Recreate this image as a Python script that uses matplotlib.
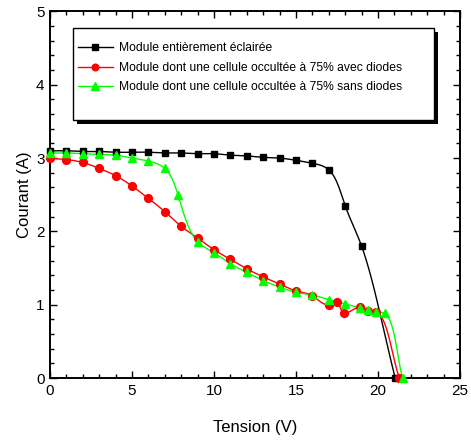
import numpy as np
import matplotlib
matplotlib.use("Agg")
import matplotlib.pyplot as plt
from matplotlib.ticker import MultipleLocator
from matplotlib.lines import Line2D
from matplotlib.patches import Rectangle
from matplotlib.transforms import ScaledTranslation

plt.rcParams['font.family'] = ['Liberation Sans', 'DejaVu Sans']

# I-V characteristics of the PV module
volts_full = [0, 1, 2, 3, 4, 5, 6, 7, 8, 9, 10, 11, 12, 13, 14, 15, 16, 17, 18, 19, 21.05]
amps_full = [3.10, 3.10, 3.09, 3.09, 3.08, 3.08, 3.08, 3.07, 3.07, 3.06, 3.06, 3.04,
             3.03, 3.01, 3.00, 2.97, 2.93, 2.84, 2.35, 1.80, 0.0]

volts_diodes = [0, 1, 2, 3, 4, 5, 6, 7, 8, 9, 10, 11, 12, 13, 14, 15, 16, 17,
                17.5, 17.9, 18.9, 19.4, 19.9, 21.3]
amps_diodes = [3.00, 2.98, 2.94, 2.86, 2.76, 2.62, 2.45, 2.27, 2.07, 1.91, 1.75, 1.62,
               1.49, 1.38, 1.28, 1.19, 1.12, 1.00, 1.04, 0.89, 0.97, 0.92, 0.90, 0.0]

volts_nodiodes = [0, 1, 2, 3, 4, 5, 6, 7, 7.8, 9, 10, 11, 12, 13, 14, 15, 16, 17, 18,
                  18.9, 19.4, 19.9, 20.4, 21.5]
amps_nodiodes = [3.07, 3.07, 3.06, 3.05, 3.04, 3.00, 2.96, 2.86, 2.50, 1.86, 1.71, 1.56,
                 1.44, 1.33, 1.24, 1.17, 1.13, 1.07, 1.01, 0.96, 0.93, 0.90, 0.88, 0.0]

labels = ["Module entièrement éclairée",
          "Module dont une cellule occultée à 75% avec diodes",
          "Module dont une cellule occultée à 75% sans diodes"]
colors = ["#000000", "#ff0000", "#00ff00"]
markers = ["s", "o", "^"]
msizes = [4.8, 5.6, 6.0]


def clamped_spline(y, t, tt):
    """Cubic spline of y(t), end slopes set to the end chords, evaluated at tt."""
    n = len(t)
    h = np.diff(t)
    s = np.diff(y) / h
    A = np.zeros((n, n))
    r = np.zeros(n)
    A[0, 0], A[0, 1] = 2 * h[0], h[0]
    A[-1, -2], A[-1, -1] = h[-1], 2 * h[-1]
    for i in range(1, n - 1):
        A[i, i - 1] = h[i - 1]
        A[i, i] = 2 * (h[i - 1] + h[i])
        A[i, i + 1] = h[i]
        r[i] = 3 * (s[i] - s[i - 1])
    c = np.linalg.solve(A, r)
    b = s - h * (2 * c[:-1] + c[1:]) / 3
    d = (c[1:] - c[:-1]) / (3 * h)
    k = np.clip(np.searchsorted(t, tt, side="right") - 1, 0, n - 2)
    dt = tt - t[k]
    return y[k] + b[k] * dt + c[k] * dt ** 2 + d[k] * dt ** 3


def spline_curve(pts, per_seg=30, alpha=0.7):
    """Parametric cubic spline through 2-D points."""
    pts = np.asarray(pts, dtype=float)
    seg = np.linalg.norm(np.diff(pts, axis=0), axis=1) ** alpha
    t = np.concatenate([[0], np.cumsum(seg)])
    tt = np.linspace(0, t[-1], per_seg * len(pts))
    return np.column_stack([clamped_spline(pts[:, 0], t, tt),
                            clamped_spline(pts[:, 1], t, tt)])


fig = plt.figure(figsize=(4.71, 4.40), dpi=100)
ax = fig.add_axes([0.1062, 0.1409, 0.8704, 0.8330])
ax.set_xlim(0, 25)
ax.set_ylim(0, 5)

series = [(volts_full, amps_full), (volts_diodes, amps_diodes), (volts_nodiodes, amps_nodiodes)]
for (vx, vy), c, m, ms in zip(series, colors, markers, msizes):
    disp = ax.transData.transform(np.column_stack([vx, vy]))
    curve = ax.transData.inverted().transform(spline_curve(disp))
    ax.plot(curve[:, 0], curve[:, 1], color=c, lw=1.0, zorder=3, clip_on=False)
    ax.plot(vx, vy, ls="none", marker=m, ms=ms, color=c, mec=c, zorder=4, clip_on=False)

ax.xaxis.set_major_locator(MultipleLocator(5))
ax.xaxis.set_minor_locator(MultipleLocator(1))
ax.yaxis.set_major_locator(MultipleLocator(1))
ax.yaxis.set_minor_locator(MultipleLocator(0.2))
ax.tick_params(which="both", direction="in", top=True, right=True, width=1.0, colors="black")
ax.tick_params(which="major", length=5, labelsize=11, pad=4)
ax.tick_params(which="minor", length=3)
for s in ax.spines.values():
    s.set_linewidth(1.4)

ax.set_xlabel("Tension (V)", fontsize=12, labelpad=16)
ax.set_ylabel("Courant (A)", fontsize=12, labelpad=3)

# legend frame with a solid drop shadow
box = (0.056, 0.704, 0.881, 0.251)
shadow_tr = ax.transAxes + ScaledTranslation(4 / 100, -4 / 100, fig.dpi_scale_trans)
ax.add_patch(Rectangle(box[:2], box[2], box[3], transform=shadow_tr,
                       facecolor="black", edgecolor="black", lw=0, zorder=5))
ax.add_patch(Rectangle(box[:2], box[2], box[3], transform=ax.transAxes,
                       facecolor="white", edgecolor="black", lw=1.0, zorder=6))

handles = [Line2D([], [], color=c, marker=m, ms=ms * 0.85, mec=c, lw=1.0)
           for c, m, ms in zip(colors, markers, msizes)]
leg = ax.legend(handles, labels, loc="upper left", bbox_to_anchor=(0.068, 0.916),
                frameon=False, borderpad=0, borderaxespad=0, handlelength=2.9,
                handletextpad=0.5, labelspacing=0.62,
                prop={"size": 8.7})
leg.set_zorder(7)

fig.savefig("out.png", dpi=100)
